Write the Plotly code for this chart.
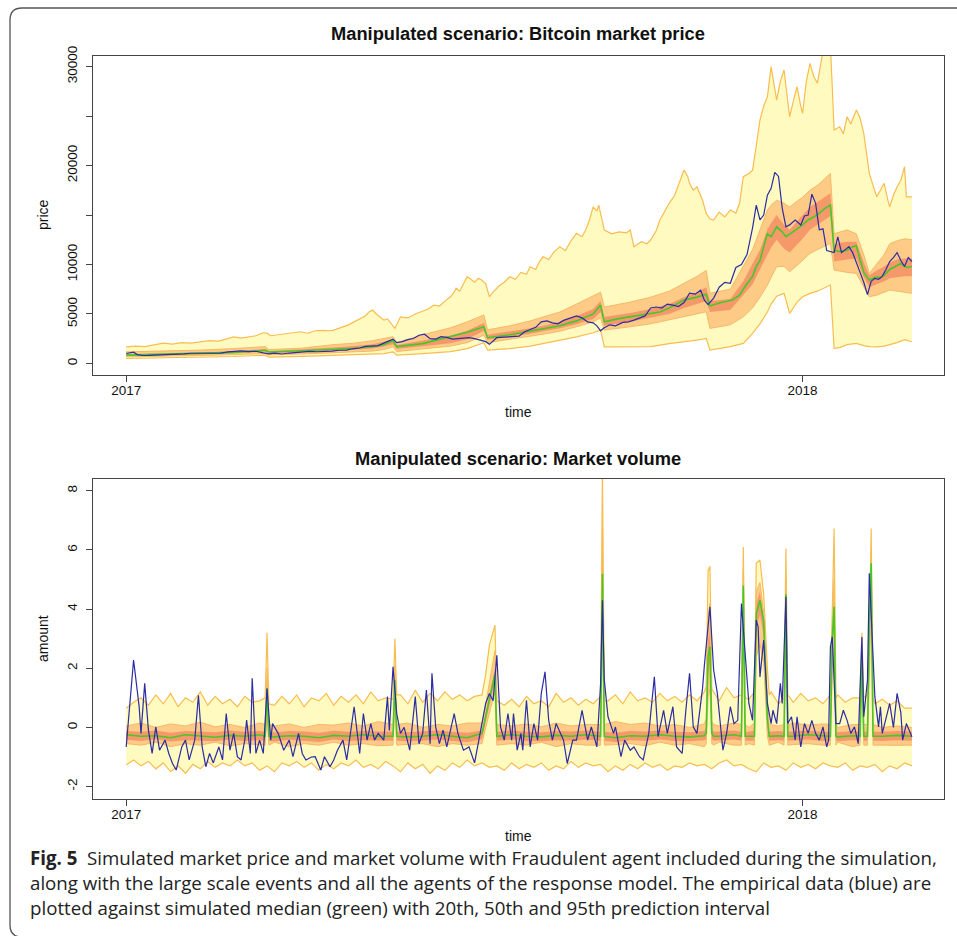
import plotly.graph_objects as go
import pandas as pd

# ---------------- data (day offsets from 2017-01-01) ----------------
X_TICK_DAYS = [0, 365]
X_TICK_LABELS = ["2017", "2018"]
PRICE_TICKS = [0, 5000, 10000, 15000, 20000, 25000, 30000]
PRICE_TICK_LABELS = ["0", "5000", "10000", "", "20000", "", "30000"]
VOL_TICKS = [-2, 0, 2, 4, 6, 8]
VOL_TICK_LABELS = ["-2", "0", "2", "4", "6", "8"]

# empirical bitcoin price (blue)
P_EMP = [(0, 1000), (2, 1030), (4, 1130), (6, 890), (9, 800), (12, 810), (16, 830), (20, 890),
         (24, 920), (28, 920), (31, 970), (35, 1030), (39, 1040), (43, 990), (47, 1000), (51, 1050),
         (55, 1170), (59, 1220), (62, 1270), (66, 1190), (70, 1230), (74, 1070), (77, 970), (80, 1040),
         (84, 950), (88, 1050), (91, 1090), (95, 1180), (99, 1210), (103, 1180), (107, 1200), (111, 1240),
         (115, 1330), (119, 1350), (122, 1480), (126, 1560), (129, 1720), (132, 1780), (136, 1800),
         (139, 2050), (142, 2300), (144, 2450), (146, 2100), (149, 2200), (152, 2400), (155, 2520),
         (158, 2850), (161, 2950), (164, 2500), (167, 2460), (170, 2700), (173, 2630), (176, 2450),
         (179, 2500), (182, 2510), (185, 2610), (188, 2500), (191, 2380), (194, 2200), (196, 1930),
         (198, 2250), (200, 2600), (204, 2650), (208, 2700), (212, 2750), (215, 3200), (218, 3400),
         (221, 3650), (224, 4200), (227, 4300), (230, 4100), (233, 4000), (236, 4350), (240, 4600),
         (243, 4800), (246, 4600), (249, 4200), (252, 4100), (254, 3800), (256, 3300), (258, 3600),
         (261, 3900), (264, 3800), (268, 4150), (271, 4200), (274, 4380), (277, 4600), (280, 4800),
         (283, 5600), (286, 5700), (289, 5600), (292, 6000), (295, 5900), (298, 5750), (301, 6150),
         (304, 7100), (307, 7000), (310, 7400), (312, 6400), (314, 5950), (317, 6600), (320, 7700),
         (323, 8200), (326, 8100), (329, 9700), (332, 10000), (335, 11000), (338, 13700), (340, 16000),
         (342, 14500), (344, 15000), (346, 17000), (348, 17700), (350, 19300), (352, 18900),
         (354, 15700), (356, 13800), (358, 14000), (361, 14500), (364, 14000), (366, 14900),
         (368, 15000), (370, 17100), (372, 16200), (374, 13500), (376, 13600), (378, 11400),
         (380, 11300), (382, 11200), (384, 12800), (386, 11200), (388, 11500), (390, 11800),
         (392, 11200), (394, 10100), (396, 9200), (398, 8200), (400, 6950), (402, 8300), (404, 8600),
         (406, 8500), (408, 8800), (410, 9500), (412, 10300), (414, 10700), (416, 11200), (418, 10400),
         (420, 9800), (422, 10700), (424, 10300)]

# simulated median price (green)
P_MED = [(0, 840), (20, 920), (40, 1000), (58, 1120), (75, 1330), (77, 1150), (95, 1280), (112, 1420),
         (123, 1530), (133, 1680), (139, 1900), (144, 2300), (146, 1700), (160, 2000), (175, 2700),
         (184, 3150), (193, 3700), (195, 2600), (207, 2900), (218, 3250), (225, 3450), (234, 3800),
         (243, 4300), (252, 5000), (256, 5900), (258, 4200), (265, 4500), (272, 4700), (280, 5000),
         (288, 5200), (293, 5600), (301, 6400), (308, 6700), (313, 7000), (315, 5800), (320, 6100),
         (327, 6400), (331, 6900), (334, 7800), (338, 8800), (340, 9800), (342, 10400), (344, 11800),
         (346, 13100), (348, 12800), (351, 13800), (354, 13300), (356, 12800), (359, 13200),
         (362, 13600), (365, 14000), (368, 14500), (371, 14800), (374, 15200), (376, 15500),
         (378, 15800), (380, 16000), (382, 11400), (385, 11300), (389, 11450), (392, 11800),
         (394, 11900), (396, 10500), (398, 9200), (401, 8400), (404, 8700), (407, 8700), (409, 8900),
         (412, 9500), (415, 9800), (418, 10100), (421, 9700), (424, 9800)]

# upper edge of the 95% price interval
P_95U = [(0, 1680), (5, 1750), (10, 1700), (15, 1900), (20, 2050), (25, 1950), (30, 2100), (35, 2050),
         (40, 2180), (45, 2300), (50, 2250), (55, 2500), (58, 2690), (62, 2550), (66, 2700), (70, 2800),
         (74, 3100), (76, 3060), (78, 2800), (82, 2900), (86, 3000), (90, 3100), (94, 3200), (98, 3050),
         (102, 3300), (106, 3350), (110, 3300), (112, 3370), (116, 3600), (120, 3900), (123, 4200),
         (126, 4500), (129, 4800), (131, 5200), (133, 5390), (135, 5000), (137, 4700), (139, 4380),
         (141, 4500), (143, 4000), (145, 3540), (148, 4710), (152, 4600), (156, 5000), (160, 5300),
         (163, 5500), (166, 5890), (169, 5800), (172, 6300), (175, 6730), (177, 7200), (178, 7600),
         (180, 7300), (182, 8000), (184, 8760), (186, 8500), (188, 8200), (190, 8600), (192, 8400),
         (194, 8080), (196, 6730), (198, 7200), (201, 7800), (204, 8200), (207, 8760), (210, 8500),
         (213, 9200), (216, 9000), (218, 9770), (221, 9500), (223, 10300), (225, 10780), (228, 10500),
         (231, 11300), (234, 11790), (237, 11400), (240, 12400), (243, 13140), (246, 12800),
         (248, 13500), (250, 14500), (252, 15830), (254, 15400), (255, 16000), (257, 14500),
         (258, 13480), (262, 13100), (266, 13300), (270, 13200), (272, 13480), (274, 11790),
         (278, 12300), (281, 12100), (283, 12470), (286, 13400), (288, 14490), (291, 15500),
         (293, 16180), (296, 17000), (299, 18500), (301, 19540), (303, 18900), (304, 18200),
         (306, 17500), (308, 17860), (311, 16500), (313, 15160), (315, 14600), (317, 14490),
         (320, 15300), (323, 14800), (326, 15500), (329, 15200), (331, 16180), (333, 18870),
         (336, 19200), (338, 19540), (340, 22000), (342, 24600), (344, 26000), (346, 26950),
         (348, 29990), (350, 27500), (351, 26620), (353, 28500), (355, 29650), (357, 26500),
         (358, 24930), (360, 26500), (362, 27960), (364, 26000), (365, 25280), (367, 28500),
         (369, 30330), (371, 29000), (373, 28310), (375, 30500), (376, 31500), (378, 32000),
         (380, 32000), (381, 28000), (382, 23590), (385, 23920), (387, 23200), (389, 24930),
         (391, 24200), (394, 25610), (396, 24800), (398, 23250), (401, 19210), (403, 18000),
         (405, 16840), (407, 17500), (409, 18200), (411, 16500), (412, 15830), (414, 17000),
         (416, 17860), (418, 18500), (420, 19880), (421, 16840), (424, 16840)]

# shared day grid for the other price interval edges
P_BAND_DAYS = [0, 20, 40, 58, 75, 77, 95, 112, 123, 133,
               139, 144, 146, 160, 175, 184, 193, 195, 207, 218,
               225, 234, 243, 252, 256, 258, 272, 283, 293, 301,
               308, 313, 315, 326, 333, 338, 342, 346, 348, 351,
               355, 358, 362, 365, 369, 373, 376, 380, 382, 385,
               389, 394, 398, 401, 405, 409, 412, 416, 420, 424]
P_95L = [500, 560, 620, 700, 840, 640, 720, 800, 870, 920,
         1000, 1170, 840, 1000, 1200, 1500, 2100, 1340, 1500, 1750,
         2020, 2300, 2690, 3100, 3370, 1680, 1650, 1700, 2000, 2180,
         2350, 2530, 1340, 1700, 2020, 3030, 4000, 5200, 6000, 6800,
         7080, 5050, 6200, 6730, 7080, 7300, 7600, 7920, 1520, 1600,
         1900, 2020, 1800, 1700, 1680, 1750, 1900, 2100, 2400, 2190]
P_50U = [1170, 1250, 1350, 1500, 1700, 1400, 1550, 1900, 2050, 2300,
         2550, 2700, 2100, 2900, 3600, 4200, 4900, 3400, 3800, 4300,
         4700, 5200, 6000, 6800, 7200, 5700, 6200, 6700, 7300, 8100,
         8800, 9400, 7100, 7500, 9800, 11500, 13500, 15500, 16000, 16500,
         16200, 15800, 16400, 16800, 17500, 18000, 18500, 19200, 13100, 13300,
         13500, 13100, 11000, 9100, 10000, 11000, 12100, 12400, 12600, 12500]
P_50L = [660, 720, 790, 880, 1010, 850, 950, 1050, 1120, 1250,
         1400, 1680, 1200, 1450, 1750, 2100, 2860, 2100, 2400, 2750,
         2950, 3250, 3700, 4200, 4600, 3370, 3700, 4000, 4400, 4710,
         5000, 5220, 3540, 3900, 4710, 5600, 6700, 7900, 8700, 9770,
         9800, 9260, 9900, 10400, 11120, 11500, 11800, 12130, 9430, 9300,
         9200, 9100, 7700, 6730, 6900, 7200, 7410, 7300, 7200, 7080]
P_20U = [930, 1000, 1080, 1220, 1450, 1250, 1400, 1600, 1750, 1950,
         2200, 2450, 1850, 2300, 2800, 3300, 4100, 2900, 3200, 3550,
         3800, 4200, 4800, 5500, 6300, 4700, 5100, 5500, 6000, 6700,
         7200, 7700, 6300, 6500, 8300, 10000, 11500, 13500, 14200, 15000,
         14000, 13500, 14400, 15000, 15800, 16300, 16700, 17200, 12000, 12200,
         12300, 12300, 10200, 8900, 9400, 9800, 10200, 10500, 10600, 10600]
P_20L = [760, 830, 900, 1010, 1200, 1020, 1150, 1280, 1380, 1520,
         1700, 1950, 1450, 1750, 2050, 2450, 3300, 2400, 2700, 3000,
         3200, 3550, 3950, 4500, 5200, 3800, 4200, 4600, 5000, 5600,
         6000, 6300, 5200, 5400, 6900, 8000, 9500, 11000, 11700, 12500,
         11600, 11200, 12000, 12600, 13500, 14000, 14400, 14900, 10300, 10400,
         10500, 10600, 8700, 7700, 8000, 8300, 8600, 8700, 8800, 8800]

# empirical market volume (blue)
V_EMP = [(0, -0.66), (4, 2.28), (7, 0.70), (8, -0.20), (10, 1.49), (12, -0.09), (14, -0.88), (16, 0.02),
         (18, -0.77), (21, -0.43), (23, -0.88), (25, -1.22), (27, -1.44), (30, -0.66), (32, -0.43),
         (34, -1.10), (37, -0.43), (39, 1.09), (41, -0.66), (43, -1.33), (45, -0.88), (47, -1.20),
         (50, -0.66), (52, -1.10), (54, 0.47), (56, -0.77), (58, -0.20), (60, -0.99), (62, -1.10),
         (64, -0.43), (65, 0.25), (67, -0.88), (68, 1.66), (70, -0.88), (72, -0.43), (74, -0.88),
         (76, 1.32), (78, -0.43), (79, 0.13), (82, -0.20), (85, -0.77), (88, -0.43), (90, -0.99),
         (93, -0.20), (95, -0.88), (97, -1.10), (100, -1.00), (102, -0.99), (105, -1.44), (107, -0.99),
         (110, -1.33), (112, -1.10), (114, -0.77), (117, -0.43), (119, -1.10), (121, -0.20), (123, 0.70),
         (126, -0.88), (128, 0.47), (130, -0.43), (132, 0.13), (134, -0.43), (136, -0.20), (139, -0.43),
         (141, 1.04), (142, -0.10), (144, 2.05), (146, 0.47), (148, -0.20), (150, 0.00), (153, -0.77),
         (156, 1.04), (158, -0.55), (160, -0.20), (162, 1.26), (164, -0.55), (165, 1.83), (167, 0.02),
         (169, -0.55), (171, -0.09), (173, -0.66), (177, 0.47), (179, -0.20), (182, -0.77), (185, -0.66),
         (188, -1.20), (191, -0.20), (194, 0.81), (196, 1.15), (198, 0.90), (200, 2.44), (202, 0.02),
         (204, -0.43), (206, 0.47), (208, -0.43), (209, 0.47), (211, -0.77), (213, -0.20), (214, -0.77),
         (216, 0.92), (218, -0.66), (220, 0.13), (222, -0.43), (224, 1.15), (226, 1.88), (228, 0.24),
         (230, -0.43), (232, 0.13), (236, -0.43), (238, -1.22), (241, -0.43), (243, -0.43), (246, 0.58),
         (249, -0.43), (251, 0.02), (254, -0.66), (256, 1.49), (257, 4.30), (258, 1.60), (260, 0.36),
         (263, -0.20), (264, 0.02), (267, -0.99), (269, -0.43), (272, -0.77), (274, -0.66), (277, -0.99),
         (279, -1.10), (282, -0.20), (285, 1.71), (287, -0.31), (290, 0.58), (292, -0.20), (295, 0.70),
         (297, -0.66), (300, -0.88), (302, 0.58), (304, 1.83), (306, 0.02), (308, -0.20), (311, 1.32),
         (312, 2.10), (315, 4.08), (317, 1.94), (319, 1.15), (321, -0.09), (322, -0.77), (324, -0.20),
         (326, 0.70), (328, 0.13), (330, 0.24), (332, 4.19), (334, 2.50), (336, 0.81), (338, 0.24),
         (340, 3.63), (341, 3.40), (342, 1.71), (344, 2.95), (346, 0.81), (348, 0.13), (349, 0.58),
         (351, 0.13), (353, 1.49), (354, 0.81), (356, 4.42), (357, 0.13), (359, 0.36), (361, -0.43),
         (362, 0.36), (364, -0.66), (366, 0.13), (368, -0.20), (370, 0.24), (372, -0.20), (374, -0.43),
         (376, 0.02), (378, -0.66), (379, -0.43), (380, 2.73), (381, 3.06), (383, 0.13), (385, 0.13),
         (387, 0.58), (389, 0.24), (391, -0.20), (393, 0.02), (395, -0.55), (396, 1.32), (397, 3.06),
         (398, 0.36), (400, 1.60), (401, 5.21), (404, 1.04), (406, 0.02), (407, 0.70), (408, -0.20),
         (410, 0.36), (412, 0.81), (414, 0.00), (416, 1.15), (418, 0.50), (419, -0.43), (421, 0.13),
         (423, -0.20), (424, -0.32)]

# 95% volume interval, every 4 days from day 0 to 424
V_95U = [0.65, 0.85, 1.00, 0.75, 1.10, 0.80, 1.15, 0.70, 1.00, 0.85,
         1.20, 0.75, 1.05, 0.80, 0.95, 0.70, 1.05, 0.85, 0.90, 1.00,
         0.75, 1.05, 0.80, 1.10, 0.70, 1.00, 0.90, 1.15, 0.75, 1.05,
         0.85, 1.10, 0.80, 1.20, 0.90, 1.00, 0.95, 1.10, 0.80, 1.25,
         0.85, 1.15, 0.90, 1.20, 0.95, 1.10, 0.90, 1.05, 1.00, 1.20,
         1.00, 0.75, 0.95, 0.70, 1.05, 0.80, 0.90, 0.70, 1.15, 0.85,
         1.00, 0.75, 0.95, 0.80, 1.05, 0.90, 1.10, 0.80, 1.20, 0.90,
         1.00, 0.85, 1.15, 0.90, 1.05, 0.85, 1.10, 0.90, 1.20, 1.20,
         0.90, 1.35, 1.00, 1.10, 0.95, 1.05, 0.90, 1.20, 0.80, 1.10,
         0.85, 1.15, 0.90, 1.00, 0.80, 1.05, 1.10, 0.85, 1.00, 0.90,
         1.00, 0.80, 0.95, 0.75, 0.90, 0.65, 0.65]
V_95L = [-1.27, -1.10, -1.30, -1.15, -1.40, -1.20, -1.50, -1.30, -1.55, -1.25,
         -1.40, -1.15, -1.35, -1.20, -1.30, -1.10, -1.30, -1.20, -1.45, -1.30,
         -1.50, -1.20, -1.30, -1.15, -1.35, -1.20, -1.45, -1.25, -1.40, -1.20,
         -1.30, -1.10, -1.35, -1.25, -1.40, -1.15, -1.30, -1.50, -1.20, -1.40,
         -1.25, -1.55, -1.30, -1.45, -1.20, -1.35, -1.10, -1.30, -1.20, -1.35,
         -1.30, -1.45, -1.20, -1.40, -1.25, -1.35, -1.20, -1.45, -1.30, -1.40,
         -1.15, -1.35, -1.20, -1.30, -1.25, -1.50, -1.30, -1.45, -1.25, -1.40,
         -1.20, -1.35, -1.25, -1.45, -1.30, -1.35, -1.20, -1.30, -1.25, -1.40,
         -1.20, -1.10, -1.30, -1.25, -1.40, -1.50, -1.20, -1.35, -1.30, -1.45,
         -1.20, -1.35, -1.25, -1.40, -1.20, -1.30, -1.35, -1.20, -1.45, -1.30,
         -1.35, -1.25, -1.50, -1.30, -1.40, -1.20, -1.30]

# 50% / 20% intervals and median, every 8 days from day 0 to 424
V_50U = [0.05, 0.15, 0.00, 0.12, 0.05, 0.18, 0.02, 0.10, 0.00, 0.15,
         0.05, 0.12, 0.00, 0.10, 0.08, 0.15, 0.05, 0.20, 0.10, 0.15,
         0.00, 0.10, 0.05, 0.15, 0.00, 0.10, 0.05, 0.12, 0.02, 0.15,
         0.05, 0.10, 0.05, 0.20, 0.10, 0.15, 0.05, 0.10, 0.00, 0.12,
         0.05, 0.15, 0.00, 0.10, 0.05, 0.15, 0.08, 0.12, 0.00, 0.10,
         0.05, 0.00, 0.05, 0.00]
V_50L = [-0.55, -0.60, -0.50, -0.65, -0.55, -0.60, -0.50, -0.62, -0.55, -0.58,
         -0.50, -0.65, -0.55, -0.60, -0.50, -0.60, -0.55, -0.62, -0.50, -0.58,
         -0.55, -0.65, -0.55, -0.60, -0.50, -0.62, -0.55, -0.60, -0.50, -0.65,
         -0.55, -0.60, -0.50, -0.58, -0.55, -0.62, -0.50, -0.60, -0.55, -0.65,
         -0.50, -0.60, -0.55, -0.62, -0.50, -0.58, -0.55, -0.60, -0.50, -0.65,
         -0.55, -0.60, -0.62, -0.60]
V_20U = [-0.12, -0.15, -0.10, -0.18, -0.12, -0.14, -0.16, -0.10, -0.15, -0.12,
         -0.17, -0.12, -0.14, -0.18, -0.11, -0.15, -0.12, -0.14, -0.10, -0.16,
         -0.14, -0.10, -0.15, -0.18, -0.12, -0.14, -0.10, -0.15, -0.16, -0.12,
         -0.14, -0.10, -0.15, -0.18, -0.12, -0.14, -0.10, -0.15, -0.16, -0.12,
         -0.14, -0.10, -0.15, -0.17, -0.12, -0.14, -0.10, -0.15, -0.16, -0.12,
         -0.14, -0.15, -0.12, -0.14]
V_20L = [-0.42, -0.46, -0.40, -0.48, -0.43, -0.45, -0.47, -0.41, -0.46, -0.43,
         -0.48, -0.42, -0.45, -0.49, -0.41, -0.46, -0.43, -0.45, -0.40, -0.47,
         -0.45, -0.41, -0.46, -0.49, -0.43, -0.45, -0.41, -0.46, -0.47, -0.43,
         -0.45, -0.41, -0.46, -0.49, -0.43, -0.45, -0.41, -0.46, -0.47, -0.43,
         -0.45, -0.41, -0.46, -0.48, -0.43, -0.45, -0.41, -0.46, -0.47, -0.43,
         -0.45, -0.46, -0.43, -0.45]
V_MED = [-0.25, -0.30, -0.28, -0.35, -0.25, -0.30, -0.33, -0.27, -0.30, -0.25,
         -0.32, -0.28, -0.30, -0.35, -0.27, -0.30, -0.25, -0.30, -0.28, -0.32,
         -0.30, -0.25, -0.30, -0.35, -0.28, -0.30, -0.25, -0.30, -0.32, -0.27,
         -0.30, -0.25, -0.30, -0.35, -0.28, -0.30, -0.25, -0.30, -0.32, -0.28,
         -0.30, -0.25, -0.30, -0.33, -0.28, -0.30, -0.25, -0.30, -0.32, -0.28,
         -0.30, -0.30, -0.27, -0.30]

# large-scale event spikes in the simulated volume
EV_DAYS = [75, 76, 77, 144, 145, 146, 192, 194, 196, 198, 199, 200, 256, 257, 258,
           313, 314, 315, 316, 317, 332, 333, 334, 339, 340, 342, 344, 346, 347,
           355, 356, 357, 380, 381, 382, 383, 396, 397, 398, 400, 401, 402, 403]
EV_95U = [1.0, 3.2, 0.8, 0.95, 3.0, 1.1, 1.1, 1.8, 2.78, 3.2, 3.46, 0.9, 1.05, 8.7, 0.9,
          1.4, 5.3, 5.45, 1.3, 1.2, 1.1, 6.1, 1.0, 1.2, 5.55, 5.66, 4.5, 2.0, 1.1,
          1.0, 6.05, 1.1, 1.1, 4.0, 6.73, 1.0, 1.0, 3.2, 1.0, 1.1, 3.0, 6.73, 1.0]
EV_50U = [0.1, 2.0, 0.1, 0.1, 2.1, 0.1, 0.15, 0.8, 1.5, 2.3, 2.6, 0.1, 0.1, 7.0, 0.1,
          0.3, 3.8, 4.2, 0.2, 0.1, 0.1, 5.3, 0.1, 0.15, 4.6, 4.9, 3.9, 1.0, 0.1,
          0.1, 5.0, 0.1, 0.1, 3.4, 5.0, 0.1, 0.1, 2.8, 0.1, 0.1, 3.0, 6.0, 0.1]
EV_20U = [-0.15, 1.5, -0.15, -0.15, 1.8, -0.15, -0.1, 0.5, 1.1, 1.8, 2.0, -0.15, -0.15, 6.0, -0.15,
          0.0, 3.0, 3.3, 0.0, -0.15, -0.15, 5.0, -0.15, -0.1, 4.2, 4.6, 3.6, 0.5, -0.15,
          -0.15, 4.7, -0.15, -0.15, 3.1, 4.4, -0.15, -0.15, 2.6, -0.15, -0.15, 2.8, 5.7, -0.15]
EV_MED = [-0.3, 1.3, -0.3, -0.3, 1.6, -0.3, -0.2, 0.4, 1.0, 1.6, 1.8, -0.3, -0.3, 5.2, -0.3,
          -0.2, 2.4, 2.73, -0.2, -0.3, -0.3, 4.8, -0.3, -0.3, 3.85, 4.3, 3.6, 0.3, -0.3,
          -0.3, 4.5, -0.3, -0.3, 3.0, 4.08, -0.3, -0.3, 2.5, -0.3, -0.3, 3.5, 5.55, -0.3]
EV_20L = [-0.45, 1.0, -0.45, -0.45, 1.3, -0.45, -0.4, 0.2, 0.8, 1.3, 1.5, -0.45, -0.45, 4.5, -0.45,
          -0.4, 1.8, 2.2, -0.4, -0.45, -0.45, 4.2, -0.45, -0.45, 3.4, 3.8, 3.1, 0.0, -0.45,
          -0.45, 4.0, -0.45, -0.45, 2.6, 3.6, -0.45, -0.45, 2.2, -0.45, -0.45, 2.5, 5.0, -0.45]
EV_50L = [-0.6, 0.5, -0.6, -0.6, 0.9, -0.6, -0.55, 0.0, 0.5, 1.0, 1.2, -0.6, -0.6, 3.5, -0.6,
          -0.55, 1.0, 1.3, -0.55, -0.6, -0.6, 3.0, -0.6, -0.6, 2.4, 2.8, 2.2, -0.3, -0.6,
          -0.6, 3.0, -0.6, -0.6, 1.8, 2.6, -0.6, -0.6, 1.6, -0.6, -0.6, 1.5, 4.0, -0.6]

# ---------------- styles ----------------
YELLOW = "#FFFAC0"
LORANGE = "#FDCB86"
SALMON = "#F6996A"
EDGE95 = "#F8BD50"
EDGE50 = "#F3AE5C"
GREEN = "#46C82A"
BLUE = "#2C2CA4"
AXIS = "#444444"
FONT = "Liberation Sans, Arial, Helvetica, sans-serif"

BASE = pd.Timestamp("2017-01-01")


def dates(days):
    return [BASE + pd.Timedelta(days=float(d)) for d in days]


def unzip(pairs):
    return [p[0] for p in pairs], [p[1] for p in pairs]


def merged(grid_days, grid_vals, ev_days=None, ev_vals=None):
    d = dict(zip(grid_days, grid_vals))
    if ev_days is not None:
        d.update(zip(ev_days, ev_vals))
    ks = sorted(d)
    return ks, [d[k] for k in ks]


def band(fig, ud, uv, ld, lv, color, xa, ya):
    fig.add_trace(go.Scatter(x=dates(list(ud) + list(ld)[::-1]), y=list(uv) + list(lv)[::-1],
                             fill="toself", fillcolor=color, line=dict(width=0),
                             mode="lines", hoverinfo="skip", xaxis=xa, yaxis=ya))


def line(fig, d, v, color, width, xa, ya):
    fig.add_trace(go.Scatter(x=dates(d), y=v, mode="lines", line=dict(color=color, width=width),
                             hoverinfo="skip", xaxis=xa, yaxis=ya))


fig = go.Figure()

# ---- price panel ----
pud, puv = unzip(P_95U)
band(fig, pud, puv, P_BAND_DAYS, P_95L, YELLOW, "x", "y")
band(fig, P_BAND_DAYS, P_50U, P_BAND_DAYS, P_50L, LORANGE, "x", "y")
band(fig, P_BAND_DAYS, P_20U, P_BAND_DAYS, P_20L, SALMON, "x", "y")
line(fig, P_BAND_DAYS, P_50U, EDGE50, 0.8, "x", "y")
line(fig, P_BAND_DAYS, P_50L, EDGE50, 0.8, "x", "y")
line(fig, pud, puv, EDGE95, 1.2, "x", "y")
line(fig, P_BAND_DAYS, P_95L, EDGE95, 1.2, "x", "y")
md, mv = unzip(P_MED)
line(fig, md, mv, GREEN, 1.6, "x", "y")
ed, ev = unzip(P_EMP)
line(fig, ed, ev, BLUE, 1.2, "x", "y")

# ---- volume panel ----
G4 = list(range(0, 425, 4))
G8 = list(range(0, 425, 8))
u95 = merged(G4, V_95U, EV_DAYS, EV_95U)
l95 = merged(G4, V_95L)
u50 = merged(G8, V_50U, EV_DAYS, EV_50U)
l50 = merged(G8, V_50L, EV_DAYS, EV_50L)
u20 = merged(G8, V_20U, EV_DAYS, EV_20U)
l20 = merged(G8, V_20L, EV_DAYS, EV_20L)
vmed = merged(G8, V_MED, EV_DAYS, EV_MED)
band(fig, u95[0], u95[1], l95[0], l95[1], YELLOW, "x2", "y2")
band(fig, u50[0], u50[1], l50[0], l50[1], LORANGE, "x2", "y2")
band(fig, u20[0], u20[1], l20[0], l20[1], SALMON, "x2", "y2")
line(fig, u50[0], u50[1], EDGE50, 0.8, "x2", "y2")
line(fig, l50[0], l50[1], EDGE50, 0.8, "x2", "y2")
line(fig, u95[0], u95[1], EDGE95, 1.2, "x2", "y2")
line(fig, l95[0], l95[1], EDGE95, 1.2, "x2", "y2")
line(fig, vmed[0], vmed[1], GREEN, 1.6, "x2", "y2")
vd, vv = unzip(V_EMP)
line(fig, vd, vv, BLUE, 1.2, "x2", "y2")

# ---------------- layout ----------------
W, H = 957, 936
L, R, T, B = 93, 13, 56, 137
PW, PH = W - L - R, H - T - B


def px(x):
    return (x - L) / PW


def py(y):
    return (H - B - y) / PH


xr = [BASE + pd.Timedelta(days=-17.9), BASE + pd.Timedelta(days=441.3)]
common_x = dict(type="date", range=xr, tickvals=dates(X_TICK_DAYS), ticktext=X_TICK_LABELS,
                ticks="outside", ticklen=6, tickcolor=AXIS, tickwidth=1, showline=True,
                linecolor=AXIS, linewidth=1.2, mirror=True, showgrid=False, zeroline=False,
                ticklabelstandoff=-3,
                tickfont=dict(size=13.5, color="#111", family=FONT), fixedrange=True)
common_y = dict(ticks="outside", ticklen=6, tickcolor=AXIS, tickwidth=1, showline=True,
                linecolor=AXIS, linewidth=1.2, mirror=True, showgrid=False, zeroline=False,
                tickangle=-90, ticklabelstandoff=4,
                tickfont=dict(size=13.5, color="#111", family=FONT), fixedrange=True)

top_dom = [py(375), py(56)]
bot_dom = [py(799), py(479)]

fig.update_layout(
    width=W, height=H, margin=dict(l=L, r=R, t=T, b=B, autoexpand=False),
    paper_bgcolor="white", plot_bgcolor="white", showlegend=False,
    font=dict(family=FONT, size=13, color="#111"),
    xaxis=dict(common_x, domain=[0, 1], anchor="y"),
    yaxis=dict(common_y, domain=top_dom, anchor="x", range=[-1170, 31070],
               tickvals=PRICE_TICKS, ticktext=PRICE_TICK_LABELS),
    xaxis2=dict(common_x, domain=[0, 1], anchor="y2"),
    yaxis2=dict(common_y, domain=bot_dom, anchor="x2", range=[-2.42, 8.40],
                tickvals=VOL_TICKS, ticktext=VOL_TICK_LABELS),
)

ann = []


def text(t, x, y, size=13, bold=False, angle=0, xanchor="center", family=FONT, color="#111"):
    ann.append(dict(text=f"<b>{t}</b>" if bold else t, x=x, y=y, xref="paper", yref="paper",
                    showarrow=False, xanchor=xanchor, yanchor="middle", textangle=angle,
                    font=dict(size=size, family=family, color=color)))


text("Manipulated scenario: Bitcoin market price", px(518), py(34), size=18.3, bold=True)
text("Manipulated scenario: Market volume", px(518), py(458), size=18.3, bold=True)
text("time", px(518), py(412), size=14)
text("time", px(518), py(836), size=14)
text("price", px(43), py(215), size=14, angle=-90)
text("amount", px(43), py(639), size=14, angle=-90)

CAP = "Open Sans, Noto Sans, sans-serif"
CAPTION = [
    "<b>Fig. 5</b>  Simulated market price and market volume with Fraudulent agent included during the simulation,",
    "along with the large scale events and all the agents of the response model. The empirical data (blue) are",
    "plotted against simulated median (green) with 20th, 50th and 95th prediction interval",
]
for t, yy in zip(CAPTION, [857, 882, 907]):
    text(t, px(28), py(yy), size=18.7, xanchor="left", family=CAP, color="#222")

fig.update_layout(annotations=ann)

# rounded outer frame
pts = f"M {px(975)},{py(8)} L {px(22)},{py(8)} Q {px(10)},{py(8)} {px(10)},{py(20)} " \
      f"L {px(10)},{py(925)} Q {px(10)},{py(937)} {px(22)},{py(937)} L {px(975)},{py(937)}"
fig.add_shape(type="path", path=pts, xref="paper", yref="paper",
              line=dict(color="#555555", width=1.3), layer="above")

fig.write_html("out.html")
